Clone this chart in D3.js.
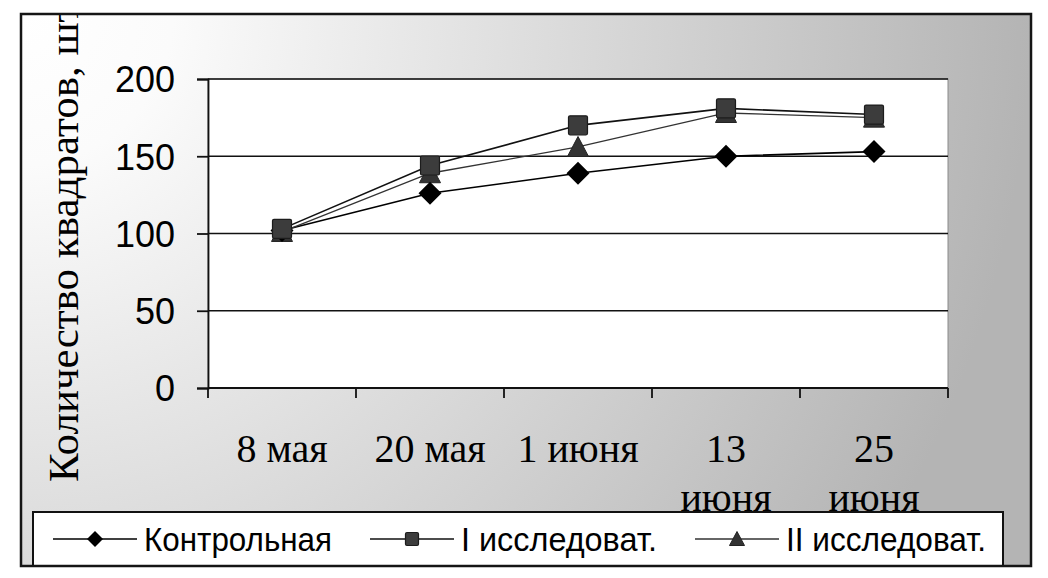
<!DOCTYPE html>
<html>
<head>
<meta charset="utf-8">
<script src="https://cdn.jsdelivr.net/npm/d3@7"></script>
<style>
  html, body { margin: 0; padding: 0; background: #fff; }
  svg { display: block; }
</style>
</head>
<body>
<svg id="chart" width="1048" height="578"></svg>
<script>
// ---- data ----
const categories = ["8 мая", "20 мая", "1 июня", "13 июня", "25 июня"];
const xTickLabels = [["8 мая"], ["20 мая"], ["1 июня"], ["13", "июня"], ["25", "июня"]];
const control = [102, 126, 139, 150, 153];
const seriesI = [103, 144, 170, 181, 177];
const seriesII = [101, 139, 156, 178, 175];
const seriesNames = ["Контрольная", "I исследоват.", "II исследоват."];
const yTicks = [0, 50, 100, 150, 200];
const yTitle = "Количество квадратов, шт.";

// ---- layout ----
const svg = d3.select("#chart");
const frame = { x: 21, y: 14, w: 1010, h: 552 };
const plot = { left: 208, right: 948, top: 79, bottom: 388 };

const defs = svg.append("defs");
const grad = defs.append("radialGradient")
  .attr("id", "bg").attr("gradientUnits", "userSpaceOnUse")
  .attr("cx", frame.x).attr("cy", frame.y).attr("r", 1010);
grad.append("stop").attr("offset", 0).attr("stop-color", "#ffffff");
grad.append("stop").attr("offset", 0.15).attr("stop-color", "#fbfbfb");
grad.append("stop").attr("offset", 1).attr("stop-color", "#b4b4b4");
defs.append("clipPath").attr("id", "frameClip")
  .append("rect").attr("x", frame.x).attr("y", frame.y).attr("width", frame.w).attr("height", frame.h);

svg.append("rect")
  .attr("x", frame.x).attr("y", frame.y).attr("width", frame.w).attr("height", frame.h)
  .attr("fill", "url(#bg)");

const x = d3.scaleBand().domain(categories).range([plot.left, plot.right]);
const y = d3.scaleLinear().domain([0, 200]).range([plot.bottom, plot.top]);

// plot area
svg.append("rect")
  .attr("x", plot.left).attr("y", plot.top)
  .attr("width", plot.right - plot.left).attr("height", plot.bottom - plot.top)
  .attr("fill", "#ffffff").attr("stroke", "#8a8a8a").attr("stroke-width", 1);

// gridlines
svg.append("g").selectAll("line").data(yTicks.filter(d => d > 0)).join("line")
  .attr("x1", plot.left).attr("x2", plot.right)
  .attr("y1", d => y(d)).attr("y2", d => y(d))
  .attr("stroke", "#111").attr("stroke-width", 1.6);

// y axis
const yAxis = svg.append("g").attr("transform", `translate(${plot.left},0)`)
  .call(d3.axisLeft(y).tickValues(yTicks).tickSize(11).tickPadding(22));
yAxis.select(".domain").attr("stroke", "#111").attr("stroke-width", 1.8);
yAxis.selectAll(".tick line").attr("stroke", "#111").attr("stroke-width", 1.8);
yAxis.selectAll(".tick text")
  .attr("font-family", "'Liberation Sans', Arial, sans-serif")
  .attr("font-size", 36).attr("fill", "#000").attr("dy", "0.36em");

// x axis
const bandEdges = categories.map(c => x(c)).concat([plot.right]);
const xAxisG = svg.append("g");
xAxisG.append("line").attr("x1", plot.left).attr("x2", plot.right)
  .attr("y1", plot.bottom).attr("y2", plot.bottom)
  .attr("stroke", "#111").attr("stroke-width", 1.8);
xAxisG.selectAll("line.tk").data(bandEdges).join("line").attr("class", "tk")
  .attr("x1", d => d).attr("x2", d => d)
  .attr("y1", plot.bottom).attr("y2", plot.bottom + 10)
  .attr("stroke", "#111").attr("stroke-width", 1.8);
const xl = xAxisG.selectAll("text").data(categories).join("text")
  .attr("x", d => x(d) + x.bandwidth() / 2)
  .attr("y", 462)
  .attr("text-anchor", "middle")
  .attr("font-family", "'Liberation Serif', 'Times New Roman', serif")
  .attr("font-size", 40).attr("fill", "#000");
xl.each(function(d, i) {
  const t = d3.select(this);
  xTickLabels[i].forEach((line, j) => {
    t.append("tspan").attr("x", x(d) + x.bandwidth() / 2).attr("dy", j === 0 ? 0 : 49).text(line);
  });
});

// y title
svg.append("g").attr("clip-path", "url(#frameClip)")
  .append("text")
  .attr("transform", "translate(78,482) rotate(-90)")
  .attr("font-family", "'Liberation Serif', 'Times New Roman', serif")
  .attr("font-size", 43).attr("fill", "#000")
  .text(yTitle);

// series
const series = [
  { name: seriesNames[0], values: control, color: "#000", width: 1.6, marker: "diamond" },
  { name: seriesNames[1], values: seriesI, color: "#111", width: 1.6, marker: "square" },
  { name: seriesNames[2], values: seriesII, color: "#333", width: 1.3, marker: "triangle" }
];
const line = d3.line().x((d, i) => x(categories[i]) + x.bandwidth() / 2).y(d => y(d));
svg.append("g").selectAll("path").data(series).join("path")
  .attr("d", s => line(s.values))
  .attr("fill", "none").attr("stroke", s => s.color).attr("stroke-width", s => s.width);

function drawMarker(g, type, cx, cy, size) {
  if (type === "diamond") {
    const h = size / 2;
    g.append("path").attr("d", `M${cx},${cy - h}L${cx + h},${cy}L${cx},${cy + h}L${cx - h},${cy}Z`)
      .attr("fill", "#000");
  } else if (type === "square") {
    const h = size / 2 - 1;
    g.append("rect").attr("x", cx - h).attr("y", cy - h).attr("width", 2 * h).attr("height", 2 * h)
      .attr("rx", 1.5).attr("fill", "#3c3c3c").attr("stroke", "#1c1c1c").attr("stroke-width", 1.2);
  } else {
    const h = size / 2;
    g.append("path").attr("d", `M${cx},${cy - h}L${cx + h},${cy + h - 1}L${cx - h},${cy + h - 1}Z`)
      .attr("fill", "#333").attr("stroke", "#222").attr("stroke-width", 1);
  }
}
const mk = svg.append("g");
[series[2], series[0], series[1]].forEach(s => {
  s.values.forEach((v, i) => {
    drawMarker(mk, s.marker, x(categories[i]) + x.bandwidth() / 2, y(v), s.marker === "diamond" ? 23 : 21);
  });
});

// legend
const leg = svg.append("g");
leg.append("rect").attr("x", 33).attr("y", 512).attr("width", 970).attr("height", 54)
  .attr("fill", "#fff").attr("stroke", "#111").attr("stroke-width", 2);
const legX = [53, 370, 695];
const legTextLen = [188, 196, 200];
series.forEach((s, i) => {
  const lx = legX[i], ly = 539;
  leg.append("line").attr("x1", lx).attr("x2", lx + 84).attr("y1", ly).attr("y2", ly)
    .attr("stroke", s.color).attr("stroke-width", s.width);
  drawMarker(leg, s.marker, lx + 42, ly, s.marker === "diamond" ? 16 : 15);
  leg.append("text").attr("x", lx + 91).attr("y", ly + 12)
    .attr("font-family", "'Liberation Sans', Arial, sans-serif")
    .attr("font-size", 33).attr("fill", "#000")
    .attr("textLength", legTextLen[i]).attr("lengthAdjust", "spacingAndGlyphs")
    .text(s.name);
});

// frame border
svg.append("rect")
  .attr("x", frame.x).attr("y", frame.y).attr("width", frame.w).attr("height", frame.h)
  .attr("fill", "none").attr("stroke", "#151515").attr("stroke-width", 2.5);
</script>
</body>
</html>
